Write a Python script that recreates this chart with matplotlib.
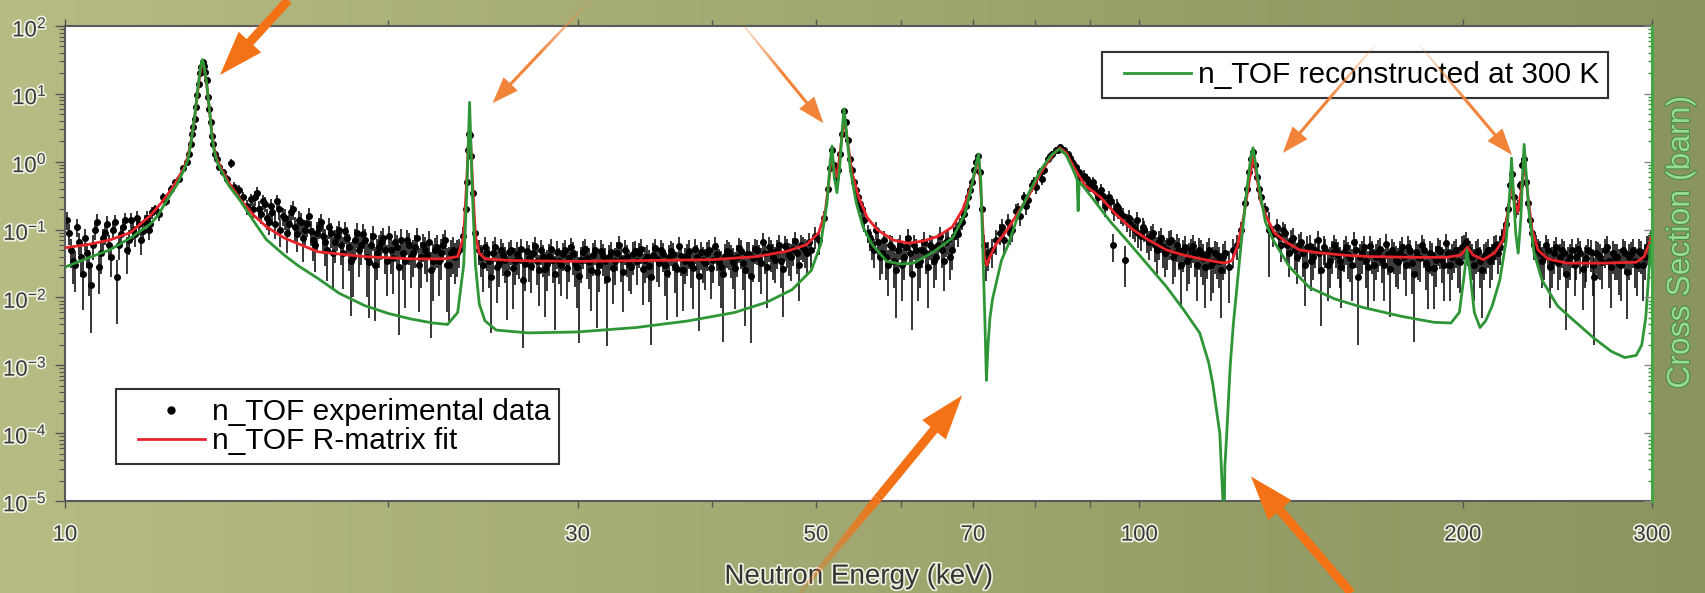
import matplotlib.pyplot as plt
import matplotlib.patheffects as pe
import numpy as np
from matplotlib.collections import LineCollection
from matplotlib.colors import to_rgb
from matplotlib.legend_handler import HandlerLine2D
from matplotlib.lines import Line2D
from matplotlib.ticker import FixedLocator, FuncFormatter, LogLocator, NullFormatter

plt.rcParams["font.family"] = ["Liberation Sans", "DejaVu Sans"]
plt.rcParams["mathtext.fontset"] = "custom"
plt.rcParams["mathtext.rm"] = "Liberation Sans"
plt.rcParams["mathtext.it"] = "Liberation Sans:italic"
plt.rcParams["mathtext.bf"] = "Liberation Sans:bold"

# n_TOF experimental points: energy (keV), cross section (barn), relative error (%)
e_exp = [
    10.04, 10.13, 10.21, 10.30, 10.39, 10.48, 10.57, 10.66, 10.75, 10.84, 10.94, 11.03, 11.13, 11.22, 11.32,
    11.41, 11.51, 11.61, 11.71, 11.81, 11.91, 12.01,
    12.12, 12.22, 12.33, 12.43, 12.54, 12.65, 12.76, 12.87, 12.98, 13.04, 13.09, 13.14, 13.17, 13.20, 13.25,
    13.28, 13.32, 13.36, 13.39, 13.43, 13.47, 13.50, 13.55, 13.59, 13.62, 13.66, 13.71, 13.74, 13.78, 13.84,
    13.90, 14.02, 14.14, 14.26, 14.38, 14.51, 14.63, 14.76, 14.89,
    15.01, 15.14, 15.27, 15.41, 15.54, 15.67, 15.81, 15.94, 16.08, 16.22, 16.36, 16.50, 16.64, 16.79, 16.93,
    17.08, 17.22, 17.37, 17.52, 17.67, 17.83, 17.98, 18.14, 18.29, 18.45, 18.61, 18.77, 18.93, 19.10, 19.26,
    19.43, 19.59, 19.76, 19.93, 20.10, 20.28, 20.45, 20.63, 20.81, 20.99, 21.17, 21.35, 21.53, 21.72, 21.91,
    22.10, 22.29, 22.48, 22.67, 22.87, 23.06,
    23.26, 23.46, 23.60, 23.66, 23.72, 23.77, 23.82, 23.87, 23.95, 24.07,
    24.28, 24.49, 24.70, 24.91, 25.13, 25.34, 25.56, 25.78, 26.00, 26.23, 26.45, 26.68, 26.91, 27.14, 27.38,
    27.61, 27.85, 28.09, 28.33, 28.58, 28.82, 29.07, 29.32, 29.57, 29.83, 30.09, 30.35, 30.61, 30.87, 31.14,
    31.41, 31.68, 31.95, 32.23, 32.50, 32.78, 33.07, 33.35, 33.64, 33.93, 34.22, 34.52, 34.82, 35.12, 35.42,
    35.72, 36.03, 36.34, 36.66, 36.97, 37.29, 37.61, 37.94, 38.27, 38.60, 38.93, 39.26, 39.60, 39.95, 40.29,
    40.64, 40.99, 41.34, 41.70, 42.06, 42.42, 42.79, 43.16, 43.53, 43.91, 44.28, 44.67, 45.05, 45.44, 45.83,
    46.23, 46.63, 47.03, 47.44, 47.85, 48.26, 48.68, 49.10,
    49.52, 49.95, 50.38, 50.82, 51.26, 51.48, 51.70, 51.92, 52.14, 52.37, 52.59, 52.82, 53.05, 53.28, 53.51,
    53.74, 53.97, 54.20, 54.43, 54.66, 54.90, 55.14, 55.38,
    55.86, 56.34, 56.83, 57.32, 57.81, 58.31, 58.82, 59.32, 59.84, 60.35, 60.88, 61.40, 61.93, 62.47, 63.01,
    63.55, 64.10, 64.66, 65.21, 65.78, 66.35, 66.92, 67.50, 68.08, 68.67, 69.26, 69.86,
    70.17, 70.47, 70.77, 71.07, 71.38, 71.69, 72.00, 72.31, 72.93, 73.56,
    74.20, 74.50, 74.84, 75.49, 75.80, 76.14, 76.80, 77.10, 77.46, 78.13, 78.50, 78.81, 79.49, 79.80, 80.18,
    80.87, 81.20, 81.57, 82.27, 82.60, 82.98, 83.70, 84.00, 84.42,
    85.15, 85.89, 86.20, 86.63, 87.38, 87.80, 88.13, 88.89, 89.30, 89.66, 90.44, 90.80, 91.22, 92.01, 92.40,
    92.80, 93.60, 94.00, 94.41, 95.23, 95.60, 96.05, 96.88, 97.30, 97.72, 98.56, 99.00, 99.41, 100.3, 101.1,
    102.0, 102.9, 103.8, 104.7, 105.6, 106.5, 107.4, 108.3, 109.3, 110.2, 111.2, 112.1, 113.1, 114.1, 115.1,
    116.0, 117.0, 118.1, 119.1,
    120.1, 121.2, 122.2, 123.3, 124.3, 125.4, 125.9, 126.5, 127.0, 127.6, 128.1, 128.7, 129.2, 129.8, 130.9,
    132.1, 133.2,
    134.4, 135.5, 136.7, 137.9, 139.1, 140.3, 141.5, 142.7, 144.0, 145.2, 146.5, 147.7, 149.0, 150.3, 151.6,
    152.9, 154.2, 155.6, 156.9, 158.3, 159.6, 161.0, 162.4, 163.8, 165.2, 166.7, 168.1, 169.6, 171.0, 172.5,
    174.0, 175.5, 177.0, 178.5, 180.1, 181.6, 183.2, 184.8, 186.4, 188.0, 189.6, 191.3, 192.9, 194.6, 196.3,
    198.0, 199.7, 201.4, 203.1, 204.9, 206.7, 208.4, 210.2, 212.0, 213.9, 215.7, 217.6, 219.5,
    220.5, 221.4, 222.3, 223.3, 224.2, 225.2, 226.2, 227.2, 228.1, 229.1, 230.1, 231.1, 232.1, 233.1,
    235.1, 237.1, 239.2, 241.3, 243.3, 245.4, 247.6, 249.7, 251.9, 254.1, 256.2, 258.5, 260.7, 263.0, 265.2,
    267.5, 269.8, 272.2, 274.5, 276.9, 279.3, 281.7, 284.2, 286.6, 289.1, 291.6, 294.1, 296.7, 299.2,
]
s_exp = [
    0.14, 0.05, 0.03, 0.065, 0.022, 0.045, 0.015, 0.1, 0.028, 0.075, 0.12, 0.04, 0.13, 0.06, 0.11,
    0.05, 0.14, 0.085, 0.12, 0.095, 0.15, 0.12,
    0.2, 0.17, 0.3, 0.26, 0.4, 0.5, 0.55, 0.8, 1.0, 1.3, 1.8, 2.6, 3.2, 4.2, 6.5,
    9.5, 14, 20, 25, 29, 26, 21, 16, 9, 6, 3.8, 2.4, 1.8, 1.3, 1.1,
    0.85, 0.7, 0.55, 0.95, 0.42, 0.38, 0.3, 0.22, 0.28,
    0.3, 0.2, 0.26, 0.15, 0.22, 0.12, 0.2, 0.16, 0.09, 0.18, 0.11, 0.14, 0.075, 0.12, 0.095,
    0.06, 0.11, 0.08, 0.05, 0.09, 0.065, 0.1, 0.045, 0.075, 0.035, 0.07, 0.05, 0.085, 0.04, 0.06,
    0.03, 0.055, 0.075, 0.035, 0.05, 0.065, 0.028, 0.045, 0.07, 0.04, 0.055, 0.03, 0.06, 0.042, 0.025,
    0.05, 0.035, 0.06, 0.03, 0.045, 0.04,
    0.05, 0.08, 0.2, 0.5, 1.5, 2.6, 2.5, 1.2, 0.35, 0.09,
    0.05, 0.03, 0.045, 0.02, 0.055, 0.032, 0.042, 0.023, 0.05, 0.034, 0.037, 0.018, 0.048, 0.029, 0.058,
    0.025, 0.04, 0.031, 0.052, 0.022, 0.035, 0.044, 0.027, 0.056, 0.032, 0.021, 0.047, 0.038, 0.025, 0.05,
    0.03, 0.041, 0.019, 0.046, 0.034, 0.059, 0.024, 0.04, 0.028, 0.049, 0.045, 0.026, 0.039, 0.02, 0.054,
    0.032, 0.043, 0.023, 0.048, 0.029, 0.058, 0.025, 0.041, 0.031, 0.052, 0.021, 0.036, 0.045, 0.027, 0.057,
    0.033, 0.022, 0.049, 0.039, 0.027, 0.053, 0.032, 0.044, 0.021, 0.051, 0.038, 0.066, 0.028, 0.047, 0.036,
    0.06, 0.026, 0.05, 0.039, 0.068, 0.03, 0.055, 0.045,
    0.05, 0.08, 0.07, 0.15, 0.4, 0.8, 1.5, 0.9, 0.6, 0.75, 1.3, 2.6, 5.5, 3.8, 2.1,
    1.1, 0.75, 0.5, 0.38, 0.3, 0.24, 0.2, 0.14,
    0.09, 0.06, 0.1, 0.04, 0.07, 0.03, 0.055, 0.025, 0.06, 0.04, 0.075, 0.022, 0.05, 0.035, 0.065,
    0.028, 0.055, 0.04, 0.08, 0.035, 0.07, 0.05, 0.1, 0.12, 0.17, 0.3, 0.5,
    0.75, 1.0, 1.2, 0.7, 0.2, 0.06, 0.035, 0.045, 0.05, 0.07,
    0.09, 0.11, 0.07, 0.13, 0.09, 0.1, 0.19, 0.2, 0.16, 0.3, 0.22, 0.27, 0.45, 0.5, 0.42,
    0.7, 0.55, 0.75, 1.1, 1.2, 1.3, 1.5, 1.5, 1.65,
    1.5, 1.3, 1.15, 1.0, 0.85, 0.7, 0.6, 0.62, 0.55, 0.45, 0.5, 0.42, 0.35, 0.38, 0.31,
    0.22, 0.3, 0.26, 0.06, 0.22, 0.2, 0.17, 0.036, 0.13, 0.15, 0.11, 0.1, 0.14, 0.08, 0.1,
    0.065, 0.09, 0.05, 0.075, 0.045, 0.065, 0.04, 0.06, 0.03, 0.055, 0.04, 0.058, 0.03, 0.045, 0.028,
    0.05, 0.033, 0.042, 0.025,
    0.045, 0.028, 0.05, 0.06, 0.1, 0.25, 0.4, 0.7, 1.1, 1.4, 0.9, 0.6, 0.4, 0.3, 0.2,
    0.1, 0.085,
    0.11, 0.06, 0.09, 0.045, 0.075, 0.04, 0.065, 0.03, 0.058, 0.04, 0.07, 0.025, 0.05, 0.035, 0.06,
    0.042, 0.028, 0.055, 0.038, 0.065, 0.02, 0.045, 0.034, 0.058, 0.03, 0.047, 0.036, 0.062, 0.026, 0.044,
    0.033, 0.055, 0.03, 0.048, 0.022, 0.04, 0.06, 0.032, 0.045, 0.027, 0.052, 0.036, 0.063, 0.03, 0.046,
    0.035, 0.055, 0.065, 0.045, 0.03, 0.048, 0.025, 0.044, 0.035, 0.055, 0.045, 0.075, 0.12,
    0.2, 0.45, 0.65, 0.3, 0.2, 0.22, 0.45, 0.9, 1.1, 0.5, 0.25, 0.14, 0.09, 0.06,
    0.05, 0.035, 0.06, 0.028, 0.045, 0.032, 0.05, 0.022, 0.04, 0.03, 0.052, 0.026, 0.038, 0.047, 0.02,
    0.042, 0.033, 0.055, 0.028, 0.04, 0.031, 0.05, 0.024, 0.043, 0.035, 0.048, 0.03, 0.055, 0.07,
]
err_pct = [
    30, 45, 60, 35, 70, 40, 80, 30, 60, 35, 30, 50, 25, 40, 30,
    55, 25, 35, 30, 30, 25, 25,
    15, 20, 15, 15, 15, 12, 12, 12, 10, 10, 10, 8, 8, 8, 8,
    8, 6, 6, 6, 6, 6, 6, 6, 8, 8, 8, 8, 10, 10, 10,
    12, 12, 15, 15, 18, 20, 20, 25, 20,
    25, 30, 25, 35, 30, 40, 30, 30, 50, 30, 40, 35, 55, 35, 40,
    60, 35, 45, 65, 40, 50, 35, 70, 45, 85, 45, 60, 40, 75, 50,
    85, 50, 40, 70, 55, 45, 90, 60, 40, 65, 50, 80, 45, 60, 90,
    50, 70, 45, 80, 55, 60,
    45, 35, 20, 15, 10, 10, 10, 12, 15, 30,
    40, 60, 45, 85, 40, 55, 50, 80, 40, 55, 50, 90, 40, 60, 35,
    70, 50, 60, 40, 85, 55, 45, 65, 35, 55, 90, 45, 50, 75, 40,
    60, 50, 90, 45, 55, 35, 75, 50, 60, 40, 40, 70, 50, 90, 35,
    55, 45, 80, 40, 60, 35, 75, 50, 55, 40, 85, 55, 45, 65, 35,
    55, 90, 45, 50, 75, 40, 60, 50, 90, 40, 55, 35, 75, 50, 55,
    40, 80, 45, 55, 35, 70, 40, 50,
    45, 35, 40, 25, 20, 15, 12, 15, 15, 15, 12, 10, 10, 10, 10,
    12, 15, 20, 20, 25, 25, 30, 35,
    30, 40, 30, 55, 35, 65, 45, 80, 40, 55, 35, 85, 45, 60, 40,
    75, 45, 55, 35, 65, 40, 50, 30, 25, 20, 20, 15,
    12, 12, 10, 15, 25, 40, 50, 45, 45, 40,
    35, 30, 40, 30, 35, 35, 25, 25, 30, 20, 25, 25, 20, 18, 20,
    15, 18, 15, 12, 12, 12, 10, 10, 10,
    10, 12, 12, 12, 15, 15, 15, 20, 18, 20, 20, 20, 25, 25, 25,
    30, 25, 25, 45, 30, 28, 30, 60, 30, 30, 35, 35, 30, 40, 35,
    45, 35, 55, 40, 55, 45, 60, 45, 75, 45, 60, 45, 70, 55, 75,
    50, 65, 55, 80,
    50, 70, 45, 40, 30, 20, 15, 12, 10, 10, 12, 15, 20, 20, 25,
    80, 35,
    30, 45, 35, 55, 40, 60, 40, 75, 45, 55, 35, 85, 45, 60, 40,
    55, 75, 45, 55, 40, 90, 50, 60, 40, 70, 50, 55, 40, 80, 50,
    60, 40, 65, 45, 90, 55, 40, 60, 50, 75, 45, 55, 35, 70, 50,
    60, 45, 40, 50, 70, 50, 80, 50, 60, 45, 50, 35, 25,
    20, 15, 15, 20, 25, 25, 15, 12, 10, 15, 20, 25, 35, 40,
    45, 60, 40, 75, 50, 60, 45, 85, 55, 65, 45, 75, 55, 50, 90,
    55, 60, 45, 75, 55, 65, 45, 80, 50, 60, 50, 70, 45, 35,
]

# interleaved points in the off-resonance regions
e_fill = [
    10.08, 10.17, 10.25, 10.34, 10.43, 10.52, 10.62, 10.70, 10.80, 10.89, 10.99, 11.08, 11.17, 11.27, 11.37,
    11.46, 11.56, 11.66, 11.76, 11.86, 11.96, 12.06,
    14.95, 15.08, 15.21, 15.34, 15.47, 15.60, 15.74, 15.87, 16.01, 16.15, 16.29, 16.43, 16.57, 16.71, 16.86,
    17.00, 17.15, 17.30, 17.45, 17.60, 17.75, 17.90, 18.06, 18.21, 18.37, 18.53, 18.69, 18.85, 19.01, 19.18,
    19.35, 19.51, 19.68, 19.85, 20.02, 20.19, 20.37, 20.54, 20.72, 20.90, 21.08, 21.26, 21.44, 21.62, 21.81,
    22.00, 22.19, 22.38, 22.58, 22.77, 22.96, 23.16,
    24.38, 24.60, 24.81, 25.02, 25.23, 25.45, 25.67, 25.89, 26.11, 26.34, 26.56, 26.80, 27.02, 27.26, 27.49,
    27.73, 27.97, 28.21, 28.45, 28.70, 28.94, 29.19, 29.45, 29.70, 29.96, 30.22, 30.48, 30.74, 31.00, 31.27,
    31.54, 31.81, 32.09, 32.36, 32.64, 32.92, 33.21, 33.50, 33.78, 34.07, 34.37, 34.67, 34.97, 35.27, 35.57,
    35.87, 36.18, 36.50, 36.81, 37.13, 37.45, 37.77, 38.10, 38.43, 38.76, 39.10, 39.43, 39.77, 40.12, 40.46,
    40.81, 41.17, 41.52, 41.88, 42.24, 42.60, 42.97, 43.34, 43.72, 44.10, 44.47, 44.86, 45.24, 45.63, 46.03,
    46.43, 46.83, 47.23, 47.64, 48.05, 48.47, 48.89, 49.31,
    56.10, 56.58, 57.07, 57.56, 58.06, 58.56, 59.07, 59.58, 60.10, 60.62, 61.14, 61.66, 62.20, 62.74, 63.28,
    63.82, 64.38, 64.93, 65.50, 66.06, 66.64, 67.21, 67.79, 68.38, 68.97, 69.56,
    90.0, 91.6, 93.2, 94.8, 96.5, 98.1, 99.8, 100.7, 101.6, 102.5, 103.4, 104.3, 105.2, 106.1, 107.0,
    107.9, 108.8, 109.8, 110.7, 111.7, 112.6, 113.6, 114.6, 115.6, 116.5, 117.5, 118.6, 119.6,
    134.9, 136.1, 137.3, 138.5, 139.7, 140.9, 142.1, 143.3, 144.6, 145.8, 147.1, 148.4, 149.7, 151.0, 152.3,
    153.6, 154.9, 156.3, 157.6, 159.0, 160.3, 161.7, 163.1, 164.5, 166.0, 167.4, 168.8, 170.3, 171.8, 173.3,
    174.8, 176.3, 177.8, 179.3, 180.9, 182.4, 184.0, 185.6, 187.2, 188.8, 190.5, 192.1, 193.8, 195.5, 197.2,
    198.9, 200.6, 202.2, 204.0, 205.8, 207.6, 209.3, 211.1, 213.0, 214.8, 216.6, 218.6,
    234.1, 236.1, 238.1, 240.2, 242.3, 244.3, 246.5, 248.6, 250.8, 253.0, 255.1, 257.3, 259.6, 261.8, 264.1,
    266.3, 268.6, 271.0, 273.3, 275.7, 278.1, 280.5, 283.0, 285.4, 287.8, 290.3, 292.8, 295.4, 297.9,
]
s_fill = [
    0.09, 0.035, 0.11, 0.04, 0.075, 0.03, 0.06, 0.13, 0.045, 0.09, 0.06, 0.1, 0.02, 0.085, 0.14,
    0.07, 0.1, 0.15, 0.07, 0.13, 0.1, 0.18,
    0.2, 0.35, 0.17, 0.24, 0.13, 0.18, 0.26, 0.1, 0.15, 0.12, 0.2, 0.085, 0.13, 0.1, 0.16,
    0.07, 0.09, 0.13, 0.065, 0.11, 0.045, 0.08, 0.06, 0.095, 0.055, 0.04, 0.09, 0.06, 0.07, 0.033,
    0.08, 0.045, 0.065, 0.05, 0.08, 0.038, 0.055, 0.07, 0.035, 0.06, 0.045, 0.075, 0.04, 0.05, 0.065,
    0.035, 0.055, 0.045, 0.07, 0.03, 0.05, 0.045,
    0.04, 0.055, 0.035, 0.045, 0.028, 0.05, 0.036, 0.046, 0.027, 0.043, 0.052, 0.031, 0.038, 0.045, 0.034,
    0.05, 0.026, 0.041, 0.036, 0.047, 0.03, 0.05, 0.038, 0.043, 0.028, 0.036, 0.052, 0.033, 0.042, 0.024,
    0.048, 0.035, 0.039, 0.027, 0.045, 0.037, 0.05, 0.031, 0.043, 0.034, 0.051, 0.036, 0.029, 0.042, 0.037,
    0.05, 0.03, 0.039, 0.044, 0.026, 0.041, 0.035, 0.048, 0.027, 0.04, 0.046, 0.032, 0.05, 0.036, 0.044,
    0.028, 0.041, 0.046, 0.033, 0.04, 0.048, 0.025, 0.043, 0.038, 0.05, 0.032, 0.045, 0.055, 0.04, 0.048,
    0.035, 0.057, 0.042, 0.052, 0.045, 0.06, 0.05, 0.065,
    0.075, 0.05, 0.065, 0.045, 0.04, 0.06, 0.035, 0.05, 0.03, 0.055, 0.045, 0.06, 0.03, 0.05, 0.045,
    0.06, 0.035, 0.06, 0.05, 0.065, 0.04, 0.08, 0.085, 0.13, 0.22, 0.38,
    0.45, 0.3, 0.25, 0.19, 0.16, 0.12, 0.09, 0.11, 0.075, 0.08, 0.06, 0.065, 0.055, 0.05, 0.07,
    0.045, 0.05, 0.047, 0.035, 0.05, 0.044, 0.05, 0.038, 0.042, 0.03, 0.045, 0.035, 0.04,
    0.08, 0.1, 0.06, 0.07, 0.05, 0.06, 0.045, 0.055, 0.035, 0.05, 0.045, 0.055, 0.03, 0.045, 0.05,
    0.035, 0.047, 0.042, 0.03, 0.05, 0.04, 0.055, 0.028, 0.045, 0.04, 0.052, 0.03, 0.043, 0.05, 0.036,
    0.045, 0.04, 0.055, 0.032, 0.046, 0.038, 0.05, 0.027, 0.042, 0.036, 0.048, 0.03, 0.045, 0.04, 0.05,
    0.033, 0.06, 0.052, 0.04, 0.045, 0.035, 0.04, 0.05, 0.04, 0.06, 0.055, 0.09,
    0.06, 0.045, 0.04, 0.05, 0.035, 0.055, 0.04, 0.045, 0.035, 0.05, 0.04, 0.045, 0.035, 0.05, 0.03,
    0.045, 0.04, 0.05, 0.035, 0.045, 0.04, 0.03, 0.045, 0.04, 0.05, 0.03, 0.045, 0.04, 0.06,
]
err_fill = [
    35, 55, 30, 50, 35, 65, 40, 30, 50, 35, 40, 30, 80, 35, 25,
    40, 30, 25, 40, 25, 30, 20,
    25, 20, 30, 25, 35, 30, 25, 45, 35, 35, 30, 45, 35, 40, 30,
    50, 45, 30, 55, 35, 70, 40, 50, 35, 55, 75, 40, 50, 45, 85,
    40, 60, 45, 55, 40, 70, 50, 45, 80, 50, 55, 40, 65, 55, 45,
    75, 50, 60, 40, 85, 55, 55,
    50, 40, 60, 50, 70, 45, 55, 45, 75, 50, 40, 60, 55, 45, 55,
    40, 80, 50, 55, 45, 65, 40, 55, 50, 75, 55, 40, 60, 50, 85,
    45, 55, 50, 70, 45, 55, 40, 60, 50, 55, 40, 55, 70, 50, 55,
    40, 65, 50, 45, 80, 50, 55, 45, 75, 50, 45, 60, 40, 55, 45,
    75, 50, 45, 60, 50, 45, 85, 50, 55, 40, 65, 50, 40, 55, 45,
    60, 40, 50, 45, 50, 40, 45, 35,
    35, 45, 40, 50, 55, 40, 60, 45, 70, 45, 50, 40, 70, 45, 50,
    40, 60, 40, 45, 40, 55, 35, 35, 25, 20, 18,
    20, 25, 25, 30, 30, 35, 40, 35, 40, 40, 45, 45, 50, 50, 40,
    55, 50, 50, 65, 45, 55, 50, 60, 55, 70, 50, 60, 55,
    35, 30, 45, 40, 50, 45, 55, 45, 65, 45, 50, 45, 70, 50, 45,
    60, 50, 55, 70, 45, 55, 45, 75, 50, 55, 45, 70, 50, 45, 60,
    50, 55, 45, 65, 50, 55, 45, 75, 50, 60, 45, 70, 50, 55, 45,
    65, 40, 45, 55, 50, 60, 55, 45, 55, 40, 45, 30,
    40, 50, 55, 45, 60, 40, 55, 50, 60, 45, 55, 50, 60, 45, 65,
    50, 55, 45, 60, 50, 55, 70, 50, 55, 45, 65, 50, 55, 40,
]

# n_TOF R-matrix fit
e_fit = [
    10.0, 10.5, 11.0, 11.5, 12.0, 12.3, 12.6, 12.9, 13.01, 13.1, 13.2, 13.27, 13.33, 13.38, 13.42, 13.46,
    13.5, 13.55, 13.59, 13.65, 13.7, 13.76, 13.85, 14.0, 14.2, 14.55, 15.0, 15.4, 16.0, 17.2, 19.0, 21.0,
    22.5, 23.2, 23.5, 23.65, 23.75, 23.8, 23.85, 23.95, 24.1, 24.3, 24.6, 26.0, 30.0, 35.0, 40.0, 44.0,
    47.0, 49.0, 50.3, 51.0, 51.4, 51.7, 52.0, 52.3, 52.7, 53.1, 53.5, 54.0, 54.8, 55.8, 57.0, 59.0, 61.0,
    63.0, 65.0, 67.0, 68.5, 69.8, 70.5, 70.9, 71.3, 71.7, 72.1, 72.6, 73.5, 75.0, 77.0, 79.0, 81.0, 83.0,
    84.3, 85.5, 87.0, 89.0, 92.0, 95.0, 98.6, 102, 106, 110, 115, 120, 122, 123.5, 125, 126.5, 127.6,
    128.6, 129.8, 131.4, 133.5, 137, 141, 146, 155, 164, 180, 193, 199, 202, 204.5, 209, 214, 218, 220.5,
    222.2, 223.5, 225, 226.5, 228.2, 230, 232, 235, 240, 250, 270, 290, 295, 298, 299.3, 300,
]
s_fit = [
    0.054, 0.06, 0.07, 0.09, 0.16, 0.25, 0.42, 0.8, 1.15, 2.0, 4.3, 9.0, 16, 24, 29, 26,
    20, 13.5, 9.0, 4.6, 2.6, 1.6, 1.1, 0.75, 0.5, 0.28, 0.16, 0.11, 0.075, 0.047, 0.04, 0.037,
    0.037, 0.04, 0.08, 0.5, 2.2, 2.9, 2.2, 0.5, 0.08, 0.045, 0.037, 0.035, 0.034, 0.035, 0.036, 0.04,
    0.048, 0.06, 0.09, 0.18, 0.5, 1.3, 0.8, 0.6, 1.5, 4.5, 2.0, 0.7, 0.3, 0.15, 0.1, 0.07, 0.063,
    0.068, 0.08, 0.11, 0.2, 0.45, 0.85, 1.0, 0.25, 0.04, 0.03, 0.04, 0.06, 0.09, 0.17, 0.33, 0.7, 1.25,
    1.6, 1.35, 0.8, 0.45, 0.3, 0.17, 0.1, 0.07, 0.05, 0.042, 0.036, 0.032, 0.035, 0.06, 0.15, 0.5, 1.2,
    0.6, 0.25, 0.15, 0.09, 0.065, 0.05, 0.046, 0.042, 0.04, 0.039, 0.039, 0.042, 0.055, 0.042, 0.036, 0.045, 0.07, 0.2,
    0.5, 0.25, 0.18, 0.35, 1.0, 0.3, 0.1, 0.05, 0.037, 0.032, 0.032, 0.033, 0.04, 0.06, 0.08, 0.06,
]

# n_TOF reconstructed at 300 K
e_300k = [
    10.0, 10.5, 11.0, 11.5, 12.0, 12.2, 12.44, 12.7, 12.9, 13.01, 13.1, 13.2, 13.27, 13.33, 13.38, 13.42,
    13.46, 13.5, 13.55, 13.59, 13.65, 13.7, 13.76, 13.85, 14.0, 14.2, 14.55, 15.0, 15.4, 16.0, 16.5, 17.2,
    18.0, 19.0, 20.0, 21.0, 22.0, 22.7, 23.2, 23.5, 23.65, 23.75, 23.8, 23.85, 23.95, 24.1, 24.3, 24.6,
    25.2, 27.0, 30.0, 34.0, 38.0, 42.0, 45.0, 47.5, 49.5, 50.5, 51.2, 51.55, 51.75, 52.0, 52.3, 52.6,
    52.9, 53.1, 53.35, 53.8, 54.5, 55.3, 56.4, 58.2, 60.0, 61.6, 64.2, 67.0, 68.8, 69.8, 70.5, 70.85,
    71.2, 71.5, 71.8, 72.05, 72.3, 72.6, 73.0, 74.4, 75.5, 77.1, 79.0, 80.9, 82.8, 84.3, 85.5, 86.8,
    87.5, 87.7, 87.9, 88.5, 90.0, 94.0, 97.3, 101, 106, 110, 113.8, 116, 117.0, 118.8, 119.6, 119.75,
    119.85, 120.0, 120.1, 120.6, 121.5, 122.3, 124.2, 125.8, 127.0, 127.6, 128.3, 129.5, 131, 133.2, 138,
    144, 152, 161, 175, 188, 195, 198.5, 200.5, 201.8, 203, 205, 207.5, 210, 213, 216.5, 219.5, 221.3,
    222.0, 222.8, 224, 225.2, 226.5, 227.5, 228.1, 228.9, 230.5, 233, 237, 245, 254, 265, 275, 283, 290,
    293.5, 296, 297.8, 299.0, 300,
]
s_300k = [
    0.028, 0.038, 0.05, 0.075, 0.12, 0.16, 0.27, 0.45, 0.75, 1.05, 1.9, 4.5, 9.5, 17, 26, 32,
    28, 21, 14, 9, 4.5, 2.4, 1.5, 1.0, 0.7, 0.45, 0.27, 0.13, 0.071, 0.042, 0.029, 0.019,
    0.0115, 0.0076, 0.0058, 0.0048, 0.0042, 0.004, 0.006, 0.03, 0.3, 2.5, 7.5, 2.5, 0.3, 0.03, 0.008, 0.0045,
    0.0033, 0.003, 0.0031, 0.0036, 0.0045, 0.006, 0.0085, 0.013, 0.025, 0.06, 0.25, 1.0, 1.7, 0.6, 0.35, 0.8,
    3.0, 6.0, 3.0, 0.8, 0.25, 0.11, 0.06, 0.034, 0.031, 0.032, 0.046, 0.075, 0.17, 0.43, 0.95, 1.3,
    0.5, 0.05, 0.005, 6e-4, 0.002, 0.005, 0.0095, 0.035, 0.06, 0.16, 0.36, 0.75, 1.25, 1.55, 1.25, 0.75,
    0.55, 0.19, 0.5, 0.45, 0.32, 0.13, 0.07, 0.035, 0.0143, 0.0065, 0.003, 0.0011, 5.5e-4, 1e-4, 1e-5, 2e-6,
    2e-6, 1.2e-5, 3.2e-5, 1e-4, 0.001, 0.004, 0.05, 0.35, 1.2, 1.6, 0.9, 0.35, 0.13, 0.07, 0.028,
    0.014, 0.0095, 0.0072, 0.0053, 0.0043, 0.0042, 0.006, 0.02, 0.05, 0.025, 0.006, 0.0036, 0.0045, 0.0075, 0.018, 0.07, 0.4,
    1.13, 0.4, 0.09, 0.045, 0.15, 0.8, 1.8, 0.8, 0.18, 0.045, 0.018, 0.0075, 0.0045, 0.0025, 0.0016, 0.0013, 0.0014,
    0.002, 0.005, 0.02, 0.06, 0.03,
]

x_major = [10, 30, 50, 70, 100, 200, 300]
x_minor = [20, 40, 60, 80, 90]

# annotation arrows: tip in data coords, tail in figure fraction
arrow_tips = [(13.94, 19.0), (25.0, 7.3), (50.8, 3.7), (136.0, 1.35), (222.2, 1.26), (68.4, 3.6e-4), (127.0, 2.3e-5)]
arrow_tails = [(0.169, 1.0), (0.346, 1.0), (0.433, 0.967), (0.806, 0.924), (0.832, 0.924), (0.469, 0.0), (0.792, 0.0)]
arrow_thick = [True, False, False, False, False, True, True]
arrow_fade = [False, True, True, True, True, True, False]

W, H = 1706, 593
fig = plt.figure(figsize=(W / 100, H / 100), dpi=100)

# olive slide background
bg = fig.add_axes([0, 0, 1, 1], zorder=-10)
t = np.linspace(0, 1, 512)
c_left = np.array([183, 187, 132]) / 255
c_right = np.array([138, 148, 94]) / 255
bg.imshow((c_left + (c_right - c_left) * t[:, None])[None, :, :], aspect="auto", extent=[0, 1, 0, 1])
bg.set_axis_off()

ax = fig.add_axes([65 / W, 1 - 501 / H, 1587 / W, 475 / H])
ax.set_facecolor("white")

red = "#e8232a"
green = "#2e9636"
e_all = e_exp + e_fill
s_all = s_exp + s_fill
yerr = np.array(s_all) * np.array(err_pct + err_fill) / 100.0
ax.errorbar(e_all, s_all, yerr=yerr, fmt="o", ms=4.0, color="black", ecolor="black",
            elinewidth=1.1, capsize=0, zorder=2)
ax.plot(e_fit, s_fit, color=red, lw=2.0, zorder=3)
ax.plot(e_300k, s_300k, color=green, lw=2.0, zorder=4)

ax.set_xscale("log")
ax.set_yscale("log")
ax.set_xlim(10, 300)
ax.set_ylim(1e-5, 1e2)

ax.xaxis.set_major_locator(FixedLocator(x_major))
ax.xaxis.set_major_formatter(FuncFormatter(lambda v, p: f"{v:g}"))
ax.xaxis.set_minor_locator(FixedLocator(x_minor))
ax.xaxis.set_minor_formatter(NullFormatter())
ax.yaxis.set_major_locator(LogLocator(base=10, numticks=20))
ax.yaxis.set_minor_locator(LogLocator(base=10, subs=np.arange(2, 10), numticks=20))
ax.yaxis.set_major_formatter(FuncFormatter(lambda v, p: r"$10^{%d}$" % round(np.log10(v))))
ax.yaxis.set_minor_formatter(NullFormatter())

tick_grey = "#555555"
label_grey = "#3a3a3a"
ax.tick_params(axis="x", which="both", top=True, direction="out", color=tick_grey)
ax.tick_params(axis="x", which="major", length=5, width=1, labelsize=16, pad=12, labelcolor=label_grey)
ax.tick_params(axis="x", which="minor", length=4, width=1)
ax.tick_params(axis="y", which="both", direction="out", color=tick_grey)
ax.tick_params(axis="y", which="major", length=7, width=1, labelsize=16, pad=6, labelcolor=label_grey)
ax.tick_params(axis="y", which="minor", length=4, width=0.8)
for side in ["left", "bottom", "top"]:
    ax.spines[side].set_color("#5a5a5a")
    ax.spines[side].set_linewidth(1.5)

# right-hand axis: ticks pointing in, green spine
ax2 = ax.twinx()
ax2.set_yscale("log")
ax2.set_ylim(1e-5, 1e2)
ax2.tick_params(axis="y", which="major", direction="in", length=6, width=1, color="#888888", labelright=False)
ax2.tick_params(axis="y", which="minor", direction="in", length=3, width=1, color=green)
for side in ["left", "bottom", "top"]:
    ax2.spines[side].set_visible(False)
ax.spines["right"].set_visible(False)
ax2.spines["right"].set_color("#43a843")
ax2.spines["right"].set_linewidth(2.2)

halo = [pe.withStroke(linewidth=2.5, foreground="#eef0e0")]
for lbl in ax.get_xticklabels() + ax.get_yticklabels():
    lbl.set_path_effects(halo)

ax.set_xlabel("Neutron Energy (keV)", fontsize=20, color="#333333", labelpad=13, path_effects=halo)

fig.text(1681 / W, 1 - 242 / H, "Cross Section (barn)", rotation=90, ha="center", va="center",
         fontsize=23, color="#9ad896",
         path_effects=[pe.withStroke(linewidth=1.4, foreground="#3f8f3c")])

# legends
h_data = Line2D([], [], ls="none", marker="o", ms=5, color="black")
h_fit = Line2D([], [], color=red, lw=2.0)
h_300k = Line2D([], [], color=green, lw=2.0)
leg_kw = dict(loc="upper left", bbox_transform=fig.transFigure, frameon=True, fancybox=False,
              edgecolor="#333333", framealpha=1, fontsize=21.5, handlelength=2.68, handletextpad=0.23,
              borderpad=0.3, labelspacing=0.05, borderaxespad=0,
              handler_map={Line2D: HandlerLine2D(xpad=0.43)})
leg1 = ax.legend([h_data, h_fit], ["n_TOF experimental data", "n_TOF R-matrix fit"],
                 bbox_to_anchor=(116 / W, 1 - 389 / H), **leg_kw)
leg1.get_frame().set_linewidth(1.5)
ax.add_artist(leg1)
leg2 = ax.legend([h_300k], ["n_TOF reconstructed at 300 K"],
                 bbox_to_anchor=(1102 / W, 1 - 52 / H), **leg_kw)
leg2.get_frame().set_linewidth(1.5)
ax.add_artist(leg2)

# orange arrows; some shafts fade out toward their tail
to_fig = fig.transFigure.inverted()
for tip, tail, thick, fade in zip(arrow_tips, arrow_tails, arrow_thick, arrow_fade):
    if thick:
        style = "simple,head_length=3.2,head_width=2.2,tail_width=0.65"
        col, shaft_w = "#f47216", 6.5
    else:
        style = "simple,head_length=1.9,head_width=1.4,tail_width=0.22"
        col, shaft_w = "#f2843a", 2.2
    start = np.array(tail)
    if fade:
        tip_f = to_fig.transform(ax.transData.transform(tip))
        mid = start + 0.5 * (tip_f - start)
        steps = np.linspace(0, 1, 25)
        pts = start + steps[:, None] * (mid - start)
        segs = np.stack([pts[:-1], pts[1:]], axis=1)
        rgb = to_rgb(col)
        alphas = 0.15 + 0.85 * steps[1:]
        widths = shaft_w * (0.4 + 0.6 * steps[1:])
        fig.add_artist(LineCollection(segs, colors=[(*rgb, a) for a in alphas], linewidths=widths,
                                      transform=fig.transFigure, capstyle="butt", zorder=9))
        start = mid
    ax.annotate("", xy=tip, xycoords="data", xytext=tuple(start), textcoords="figure fraction",
                arrowprops=dict(arrowstyle=style, color=col, lw=0, shrinkA=0, shrinkB=0, mutation_scale=10),
                annotation_clip=False, zorder=8)

fig.savefig("out.png", dpi=100)
